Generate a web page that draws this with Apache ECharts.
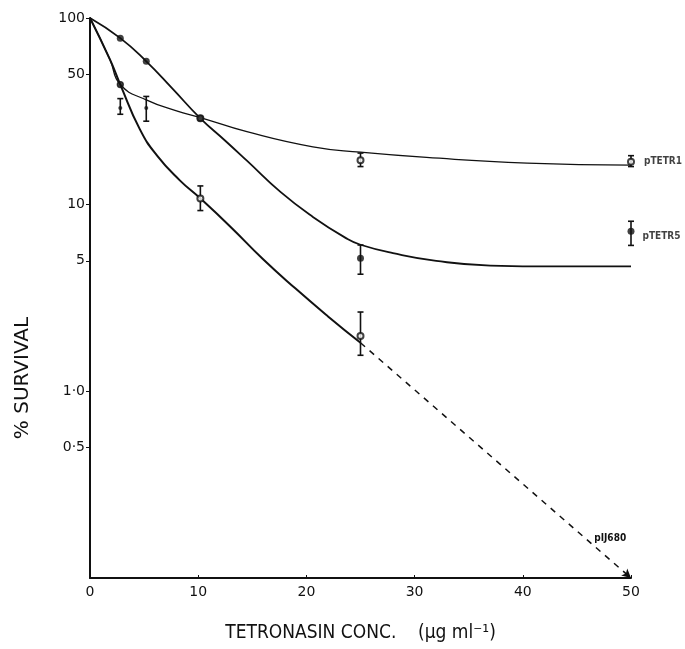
<!DOCTYPE html>
<html>
<head>
<meta charset="utf-8">
<script src="https://cdn.jsdelivr.net/npm/echarts@6/dist/echarts.min.js"></script>
<style>
  html, body { margin: 0; padding: 0; background: #fff; }
  #chart { width: 685px; height: 649px; }
</style>
</head>
<body>
<div id="chart"></div>
<script>
// tick labels
var xTicks = [0, 10, 20, 30, 40, 50]
var yTicks = [0.5, 1, 5, 10, 50, 100]
var yTickText = { 0.5: '0·5', 1: '1·0', 5: '5', 10: '10', 50: '50', 100: '100' }

// fitted curves
var curveTetr5 = [[0, 100], [2.8, 78], [5.2, 58.6], [7.6, 42], [10.2, 29], [12.5, 22], [14.5, 17.2],
  [17.6, 11.7], [20.6, 8.6], [23.7, 6.6], [25, 6.1], [28, 5.5], [32, 5.0], [37, 4.72], [43, 4.67], [50, 4.67]]
var curveTetr1 = [[0, 100], [1.85, 59.8], [2.8, 44], [5.2, 36.4], [8, 31.8], [10.2, 29.3], [14.5, 24.6],
  [20.6, 20.4], [25, 19.1], [31.1, 17.9], [40.4, 16.7], [50, 16.3]]
var curveIJ680 = [[0, 100], [1.85, 59.8], [2.8, 44], [4.6, 25.4], [6.2, 18.3], [8.3, 13.5], [10.2, 10.8],
  [13, 7.6], [16, 5.1], [19, 3.55], [22, 2.52], [25, 1.82]]
var dashIJ680 = [[25, 1.82], [50, 0.1]]

// measured points
var ptsTetr5 = [[2.8, 78], [5.2, 58.6], [10.2, 29], [25, 5.16], [50, 7.2]]
var ptsTetr1Dots = [[2.8, 33], [5.2, 33]]
var ptsTetr1 = [[10.2, 29], [25, 17.3], [50, 17]]
var ptsIJ680 = [[2.8, 44], [10.2, 10.8], [25, 1.98]]

// error bars [x, low, high]
var errTetr5 = [[25, 4.24, 6.08], [50, 6.05, 8.15]]
var errTetr1 = [[2.8, 30.5, 37], [5.2, 28, 38], [25, 16.0, 18.9], [50, 16.0, 18.3]]
var errIJ680 = [[10.2, 9.3, 12.6], [25, 1.56, 2.66]]

var ink = '#111'
var labelFont = { fontFamily: 'DejaVu Sans Condensed', fontWeight: 'bold', fontSize: 10, color: ink }

function errBars(api) {
  var x = api.value(0)
  var lo = api.coord([x, api.value(1)])
  var hi = api.coord([x, api.value(2)])
  var st = { stroke: ink, lineWidth: 1.6 }
  return {
    type: 'group',
    children: [
      { type: 'line', shape: { x1: lo[0], y1: lo[1], x2: hi[0], y2: hi[1] }, style: st },
      { type: 'line', shape: { x1: lo[0] - 3, y1: lo[1], x2: lo[0] + 3, y2: lo[1] }, style: st },
      { type: 'line', shape: { x1: hi[0] - 3, y1: hi[1], x2: hi[0] + 3, y2: hi[1] }, style: st }
    ]
  }
}

function lineSeries(data, width) {
  return {
    type: 'line', data: data, smooth: 0.5, showSymbol: false,
    lineStyle: { color: ink, width: width }, silent: true, z: 2
  }
}

var chart = echarts.init(document.getElementById('chart'))
chart.setOption({
  backgroundColor: '#fff',
  animation: false,
  grid: { left: 90, right: 54, top: 18, bottom: 71 },
  xAxis: {
    type: 'value', min: 0, max: 50, interval: 10,
    name: 'TETRONASIN CONC.    (μg ml⁻¹)', nameLocation: 'middle', nameGap: 46,
    nameTextStyle: { fontFamily: 'DejaVu Sans Condensed', fontSize: 19, color: ink },
    axisLine: { lineStyle: { color: ink, width: 2 } },
    axisTick: { show: true, inside: true, length: 3, lineStyle: { color: ink } },
    axisLabel: { fontFamily: 'DejaVu Sans', fontSize: 14, color: ink, margin: 7, customValues: xTicks },
    splitLine: { show: false }
  },
  yAxis: {
    type: 'log', logBase: 10, min: 0.1, max: 100,
    name: '% SURVIVAL', nameLocation: 'middle', nameGap: 57, nameRotate: 90,
    nameTextStyle: { fontFamily: 'DejaVu Sans', fontSize: 20, color: ink, padding: [0, 160, 0, 0] },
    axisLine: { show: true, lineStyle: { color: ink, width: 2 } },
    axisTick: { show: true, length: 4, lineStyle: { color: ink }, customValues: yTicks },
    axisLabel: {
      fontFamily: 'DejaVu Sans', fontSize: 14, color: ink, margin: 5, customValues: yTicks,
      formatter: function (v) { return yTickText[v] || yTickText[Math.round(v * 10) / 10] || '' }
    },
    splitLine: { show: false }, minorTick: { show: false }
  },
  series: [
    lineSeries(curveTetr5, 1.8),
    lineSeries(curveTetr1, 1.3),
    lineSeries(curveIJ680, 2),
    {
      type: 'line', data: dashIJ680.map(function (d, i) {
        if (i === 0) return { value: d, symbol: 'none' }
        return {
          value: d, symbol: 'arrow', symbolSize: [7, 9], symbolRotate: -131,
          label: { show: true, formatter: 'pIJ680', position: 'left', offset: [10, -37], ...labelFont }
        }
      }),
      lineStyle: { color: ink, width: 1.5, type: [6, 6] }, itemStyle: { color: ink }, silent: true, z: 2
    },
    { type: 'custom', renderItem: function (p, api) { return errBars(api) }, data: errTetr5, z: 3, clip: false },
    { type: 'custom', renderItem: function (p, api) { return errBars(api) }, data: errTetr1, z: 3, clip: false },
    { type: 'custom', renderItem: function (p, api) { return errBars(api) }, data: errIJ680, z: 3, clip: false },
    {
      type: 'scatter', symbol: 'emptyCircle', symbolSize: 6, z: 4, clip: false,
      itemStyle: { color: ink, borderColor: ink, borderWidth: 1.3 },
      data: ptsTetr1.map(function (d, i) {
        if (i === ptsTetr1.length - 1) {
          return { value: d, label: { show: true, formatter: 'pTETR1', position: 'right', offset: [4, 0], ...labelFont } }
        }
        return d
      })
    },
    {
      type: 'scatter', symbol: 'circle', symbolSize: 4, z: 4,
      itemStyle: { color: ink }, data: ptsTetr1Dots
    },
    {
      type: 'scatter', symbol: 'emptyCircle', symbolSize: 6, z: 4,
      itemStyle: { color: ink, borderColor: ink, borderWidth: 1.3 },
      data: ptsIJ680.map(function (d, i) {
        if (i === 0) return { value: d, symbol: 'circle', symbolSize: 6 }
        return d
      })
    },
    {
      type: 'scatter', symbol: 'circle', symbolSize: 7, z: 5, clip: false,
      itemStyle: { color: ink },
      data: ptsTetr5.map(function (d, i) {
        if (i === ptsTetr5.length - 1) {
          return { value: d, label: { show: true, formatter: 'pTETR5', position: 'right', offset: [3, 5], ...labelFont } }
        }
        return d
      })
    }
  ]
})
</script>
</body>
</html>
